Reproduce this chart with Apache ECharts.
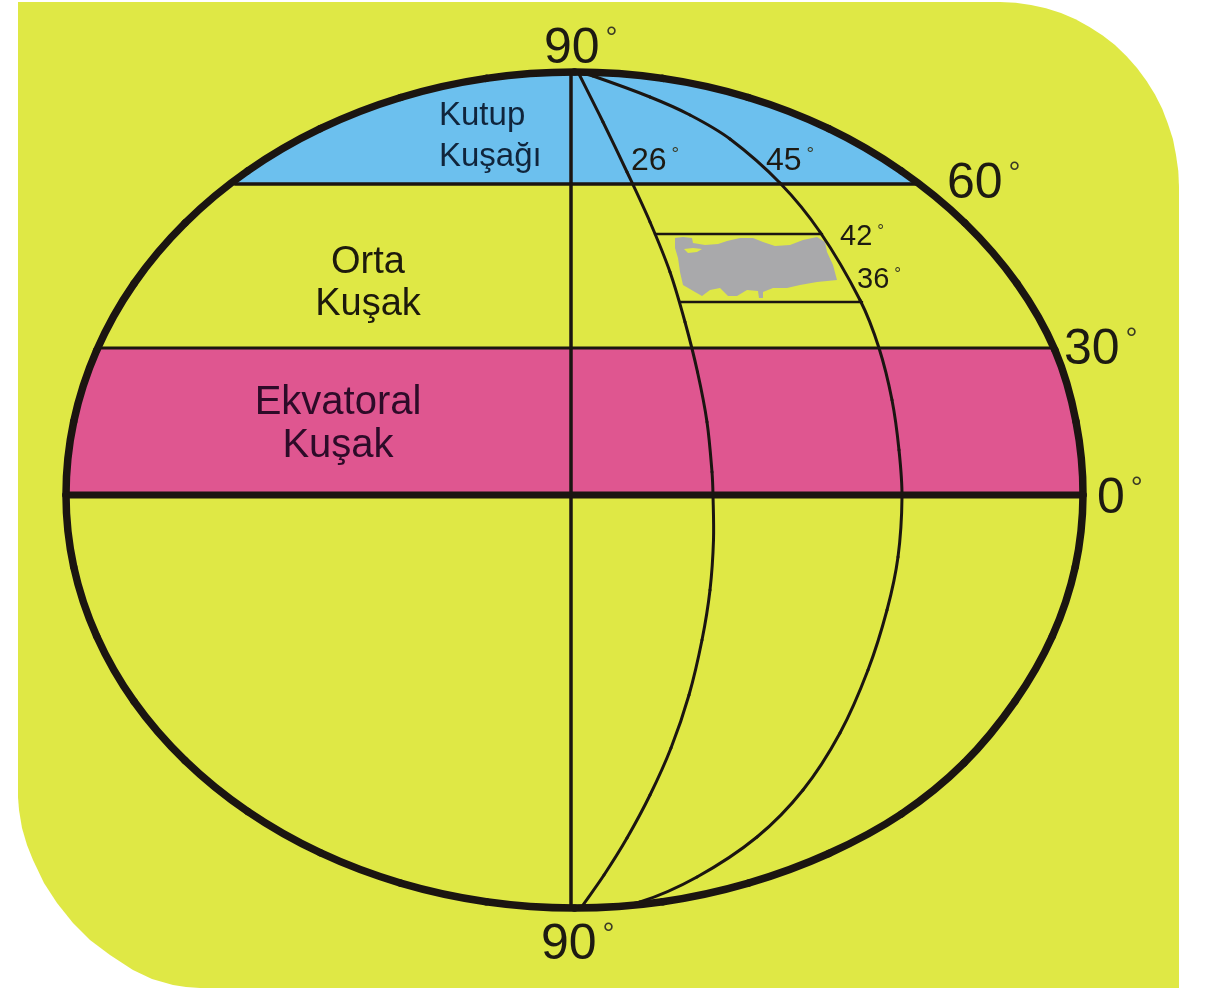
<!DOCTYPE html>
<html><head><meta charset="utf-8">
<style>html,body{margin:0;padding:0;background:#fff}#c{width:1209px;height:988px}</style>
<script src="https://cdn.jsdelivr.net/npm/echarts@6/dist/echarts.min.js"></script>
</head><body><div id="c"></div>
<script>
const panel = [[18,2],[1000,2],[1015.6,2.7],[1031,5],[1046,8.3],[1061,13],[1075.6,19.3],[1089.5,27],[1102.7,35.5],[1115,45],[1126.6,56.2],[1137,68],[1146.6,80.9],[1155,94.5],[1162.2,108.8],[1168,124],[1172.9,139.1],[1176,155],[1178.3,170.9],[1179,187],[1179,988],[200,988],[186,987],[173,985],[152,979],[133,970],[110,955],[90,940],[73,923],[57,903],[44,883],[33,860],[27,845],[22,828],[19,810],[18,797]];
const outlineTop = [[66,495],[73.7,421.6],[96.7,350.3],[134.1,283.5],[185,223.1],[247.6,171],[320.2,128.7],[400.6,97.5],[486.2,78.4],[574.5,72],[662.8,78.4],[748.4,97.5],[828.8,128.7],[901.4,171],[965,223.1],[1017,283.5],[1055,350.3],[1076,421.6],[1083,495]];
const outlineBottom = [[1083,495],[1075.3,566.7],[1052.3,636.2],[1014.9,701.5],[964,763],[901.4,814],[828.8,853.5],[748.4,883.1],[662.8,901.7],[574.5,908],[486.2,901.7],[400.6,883.1],[320.2,852.7],[247.6,811.4],[185,760.5],[134.1,701.5],[96.7,636.2],[73.7,566.7],[66,495]];
const meridian0 = [[571,72],[571,908]];
const meridian26 = [[578,72],[603,122],[627,172],[650,222],[670,272],[685,322],[697.5,372],[707,422],[712,472],[713,495],[713.5,540],[710,590],[702,640],[689,695],[671,748],[650,795],[627,838],[604,875],[583,905]];
const meridian45 = [[578,72],[593,76],[650,97],[690,115],[730,139],[780,183],[820,232],[860,300],[879,348],[892,400],[899,450],[902,497],[898,557],[887,610],[868,670],[840,733],[803,790],[757,837],[697,877],[640,902],[600,908]];
const parallel60 = [[235,184],[918,184]];
const parallel30 = [[97,348],[1056,348]];
const equator = [[66,495],[1083,495]];
const parallel42 = [[655,234],[822,234]];
const parallel36 = [[680,302],[862,302]];
const turkey = [[675,238],[683,237],[692,238],[693,243],[705,245],[718,244],[727,241],[740,238],[753,238],[763,242],[775,246],[790,245],[803,240],[817,237],[825,242],[827,252],[833,265],[837,280],[817,282],[800,285],[787,288],[773,288],[763,292],[763,298],[759,298],[758,291],[747,290],[737,296],[728,296],[720,288],[710,290],[702,296],[695,292],[683,285],[680,272],[678,258],[675,248]];
const marmara = [[684,249],[693,248],[702,249],[697,252],[688,253]];
const degreeLabels = ['90','60','30','0','90','26','45','42','36'];
const degreeAnchors = [[544,49],[947,184],[1064,350],[1097,499],[541,945],[631,161],[766,161],[840,237],[857,280]];
const zoneLabels = ['Orta\nKuşak','Ekvatoral\nKuşak'];
const zoneAnchors = [[368,284],[338,424]];
const capLabel = 'Kutup\nKuşağı';
const capAnchor = [439,136];

const LINE='#1b1511', FONT='"Liberation Sans",Arial,sans-serif';
function poly(name,pts,fill,z){
  return {type:'custom',name,silent:true,coordinateSystem:'cartesian2d',z,data:pts.map(p=>p.slice()),encode:{x:0,y:1},
    renderItem:(params,api)=>{
      if(params.dataIndex!==0) return null;
      return {type:'polygon',shape:{points:pts.map(p=>api.coord(p))},style:{fill,stroke:null}};
    }};
}
function tangents(c,closed){
  const n=c.length;
  return c.map((p,i)=>{
    let a=c[Math.max(i-1,0)], b=c[Math.min(i+1,n-1)];
    if(closed&&(i===0||i===n-1)){a=c[n-2];b=c[1];}
    const dx=b[0]-a[0], dy=b[1]-a[1], l=Math.hypot(dx,dy)||1;
    return [dx/l,dy/l];
  });
}
function line(name,pts,width,z,smooth,closed){
  return {type:'custom',name,silent:true,coordinateSystem:'cartesian2d',z,data:pts.map(p=>p.slice()),encode:{x:0,y:1},
    renderItem:(params,api)=>{
      if(params.dataIndex!==0) return null;
      const c=pts.map(p=>api.coord(p));
      const style={fill:null,stroke:LINE,lineWidth:width,lineCap:'round',lineJoin:'round'};
      if(!smooth) return {type:'polyline',shape:{points:c},style};
      const t=tangents(c,closed), children=[];
      for(let i=0;i<c.length-1;i++){
        const h=Math.hypot(c[i+1][0]-c[i][0],c[i+1][1]-c[i][1])/3;
        children.push({type:'bezierCurve',shape:{x1:c[i][0],y1:c[i][1],x2:c[i+1][0],y2:c[i+1][1],
          cpx1:c[i][0]+t[i][0]*h,cpy1:c[i][1]+t[i][1]*h,cpx2:c[i+1][0]-t[i+1][0]*h,cpy2:c[i+1][1]-t[i+1][1]*h},style});
      }
      return {type:'group',children};
    }};
}
const capPts = [parallel60[0]].concat(outlineTop.filter(p=>p[1]<=171),[parallel60[1]]);
const bandLeft = outlineTop.filter(p=>p[0]<574&&p[1]>351).reverse();
const bandRight = outlineTop.filter(p=>p[0]>574&&p[1]>351).reverse();
const bandPts = [parallel30[0]].concat(bandLeft,bandRight,[parallel30[1]]);
function deg(size,gap){
  return {n:{fontSize:size,fontFamily:FONT,color:'#1d1a12'},
          d:{fontSize:Math.round(size*0.6),fontFamily:FONT,color:'#3a3a25',verticalAlign:'top',padding:[0,0,0,gap],lineHeight:size}};
}
const sizes=[50,50,50,50,50,32,32,29,29];
const degreeSeries = degreeLabels.map((t,i)=>({type:'scatter',silent:true,z:30,symbolSize:0,itemStyle:{opacity:1},data:[degreeAnchors[i]],
  label:{show:true,position:'inside',align:'left',verticalAlign:'middle',formatter:'{n|'+t+'}{d|°}',rich:deg(sizes[i],sizes[i]>40?6:5)}}));
const textSeries = (pt,txt,size,lh,align,color)=>({type:'scatter',silent:true,z:30,symbolSize:0,itemStyle:{opacity:1},data:[pt],
  label:{show:true,position:'inside',align,verticalAlign:'middle',formatter:txt,fontSize:size,lineHeight:lh,fontFamily:FONT,color}});

const chart = echarts.init(document.getElementById('c'),null,{renderer:'canvas',width:1209,height:988});
chart.setOption({
  animation:false,backgroundColor:'#ffffff',
  grid:{left:0,right:0,top:0,bottom:0,containLabel:false},
  xAxis:{type:'value',min:0,max:1209,show:false},
  yAxis:{type:'value',min:0,max:988,inverse:true,show:false},
  series:[
    poly('panel',panel,'#DFE845',1),
    poly('Kutup Kuşağı',capPts,'#6CC0EE',2),
    poly('Ekvatoral Kuşak',bandPts,'#DF5690',2),
    poly('Türkiye',turkey,'#A9A9AB',3),
    poly('Marmara',marmara,'#DFE845',4),
    line('meridian 0',meridian0,3.5,5,false),
    line('meridian 26',meridian26,3,5,true),
    line('meridian 45',meridian45,3,5,true),
    line('60',parallel60,3.5,5,false),
    line('30',parallel30,3,5,false),
    line('42',parallel42,2.5,5,false),
    line('36',parallel36,2.5,5,false),
    line('0',equator,7,6,false),
    line('outline',outlineTop.concat(outlineBottom.slice(1)),7.5,7,true,true),
    ...degreeSeries,
    textSeries(capAnchor,capLabel,33,41,'left','rgba(12,28,50,.95)'),
    textSeries(zoneAnchors[0],zoneLabels[0],38,42,'center','#1d1a0c'),
    textSeries(zoneAnchors[1],zoneLabels[1],40,43,'center','#2d0b28')
  ]
});
</script></body></html>
